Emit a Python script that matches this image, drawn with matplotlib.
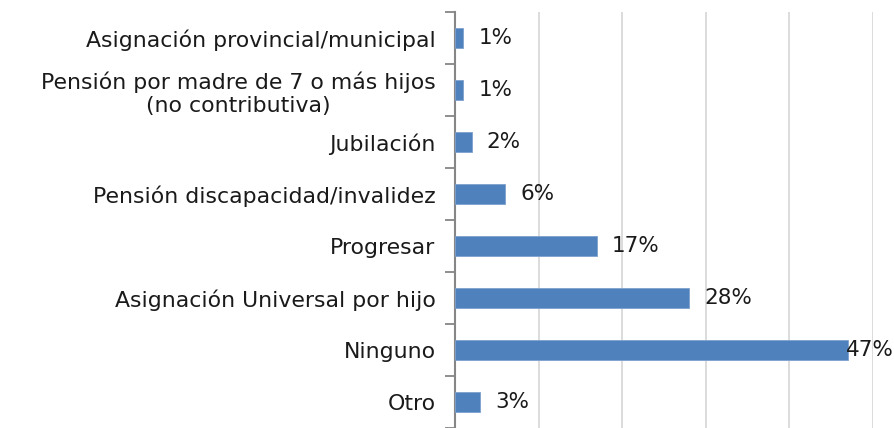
import numpy as np
import matplotlib
matplotlib.use('Agg')
from matplotlib import pyplot as plt

categorias = ['Asignación provincial/municipal',
              'Pensión por madre de 7 o más hijos\n(no contributiva)',
              'Jubilación',
              'Pensión discapacidad/invalidez',
              'Progresar',
              'Asignación Universal por hijo',
              'Ninguno',
              'Otro']
valores = [0.01, 0.01, 0.02, 0.06, 0.17, 0.28, 0.47, 0.03]

plt.rcParams['font.family'] = ['DejaVu Sans']
fs = 15.8
fs_val = 15.5
txt_color = '#1a1a1a'

fig = plt.figure(figsize=(8.95, 4.28), dpi=100)
ax = fig.add_axes([455/895, 0, (873-455)/895, 416/428])

y = np.arange(len(categorias))
ax.barh(y, valores, height=0.4, color='#4F81BD', edgecolor='#7FA1CF', linewidth=0.6, zorder=3)

ax.set_xlim(0, 0.5)
ax.set_ylim(len(categorias) - 0.5, -0.5)
ax.set_xticks(np.arange(0, 0.51, 0.1))
ax.xaxis.grid(True, color='#D9D9D9', linewidth=1.3, zorder=0)
ax.tick_params(axis='x', length=0, labelbottom=False)

ax.set_yticks(y)
ax.set_yticklabels(categorias, fontsize=fs, color=txt_color)
ax.set_yticks(np.arange(-0.5, len(categorias), 1), minor=True)
ax.tick_params(axis='y', which='major', length=0, pad=14)
ax.tick_params(axis='y', which='minor', length=7, width=1.3, color='#868686', direction='out')
for lbl in ax.get_yticklabels():
    lbl.set_multialignment('center')
    lbl.set_linespacing(1.2)

for s in ['top', 'right', 'bottom']:
    ax.spines[s].set_visible(False)
ax.spines['left'].set_color('#868686')
ax.spines['left'].set_linewidth(1.5)

for yi, v in zip(y, valores):
    txt = f'{round(v*100):d}%'
    if v == max(valores):
        ax.annotate(txt, (1.0, yi), xycoords=('axes fraction', 'data'),
                    xytext=(21, 0), textcoords='offset pixels',
                    ha='right', va='center', fontsize=fs_val, color=txt_color, zorder=4)
    else:
        ax.annotate(txt, (v, yi), xytext=(15, 0), textcoords='offset pixels',
                    ha='left', va='center', fontsize=fs_val, color=txt_color, zorder=4)

fig.savefig('out.png', dpi=100)
